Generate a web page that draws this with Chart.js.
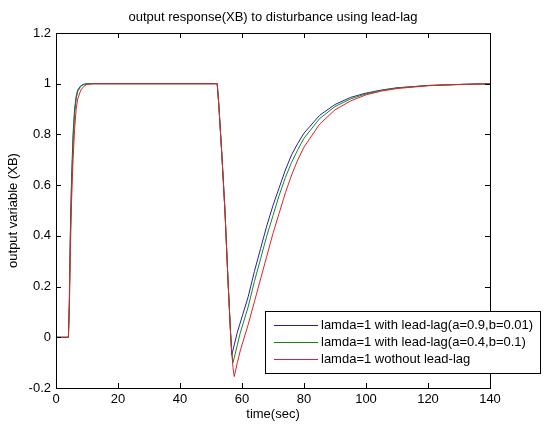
<!DOCTYPE html>
<html>
<head>
<meta charset="utf-8">
<script src="https://cdn.jsdelivr.net/npm/chart.js@4.4.0/dist/chart.umd.min.js"></script>
<style>
  html, body { margin: 0; padding: 0; background: #fff; }
  canvas { display: block; }
</style>
</head>
<body>
<canvas id="respChart" width="544" height="429"></canvas>
<script>
// time axis (sec)
const time = [0, 4, 4.3, 4.6, 5, 5.5, 6, 6.5, 7, 8, 9, 10, 12,
  52, 52.5, 53.5, 54.5, 55.5, 56.3, 56.7, 57.1, 57.5, 58.5, 59.5,
  62, 64, 66, 68, 70, 72, 74, 76, 78, 80,
  85, 90, 95, 100, 105, 110, 120, 130, 140];

// output XB, lead-lag a=0.9 b=0.01
const xbLeadLag1 = [0, 0, 0.15, 0.4, 0.62, 0.8, 0.9, 0.95, 0.975, 0.992, 0.998, 1, 1,
  1, 0.92, 0.72, 0.5, 0.22, 0.02, -0.07, -0.05, -0.03, 0.02, 0.06,
  0.16, 0.26, 0.35, 0.44, 0.52, 0.59, 0.66, 0.72, 0.765, 0.805,
  0.875, 0.918, 0.946, 0.963, 0.975, 0.984, 0.993, 0.997, 1];

// lead-lag a=0.4 b=0.1
const xbLeadLag2 = [0, 0, 0.13, 0.37, 0.59, 0.77, 0.88, 0.94, 0.97, 0.99, 0.997, 1, 1,
  1, 0.92, 0.72, 0.5, 0.22, 0.02, -0.06, -0.1, -0.08, -0.03, 0.02,
  0.12, 0.22, 0.31, 0.40, 0.48, 0.56, 0.63, 0.69, 0.74, 0.785,
  0.862, 0.91, 0.94, 0.96, 0.974, 0.983, 0.993, 0.997, 1];

// without lead-lag
const xbNoLeadLag = [0, 0, 0.1, 0.32, 0.53, 0.7, 0.82, 0.9, 0.94, 0.975, 0.99, 0.997, 1,
  1, 0.92, 0.72, 0.5, 0.22, 0.02, -0.06, -0.12, -0.155, -0.1, -0.05,
  0.05, 0.14, 0.23, 0.32, 0.41, 0.49, 0.57, 0.64, 0.70, 0.75,
  0.84, 0.897, 0.932, 0.956, 0.971, 0.981, 0.992, 0.997, 1];

const seriesNames = [
  'lamda=1 with lead-lag(a=0.9,b=0.01)',
  'lamda=1 with lead-lag(a=0.4,b=0.1)',
  'lamda=1 wothout lead-lag'
];
const seriesColors = ['#23239e', '#1a861a', '#e0202c'];
const xTicks = [0, 20, 40, 60, 80, 100, 120, 140];
const yTicks = [-0.2, 0, 0.2, 0.4, 0.6, 0.8, 1, 1.2];

const FONT = '"Liberation Sans", Arial, sans-serif';

function toPoints(vals) {
  return time.map((t, i) => ({ x: t, y: vals[i] }));
}

const matlabFrame = {
  id: 'matlabFrame',
  afterDatasetsDraw(chart) {
    const { ctx, chartArea: a, scales } = chart;
    ctx.save();
    ctx.strokeStyle = '#000';
    ctx.lineWidth = 1;
    // box
    ctx.strokeRect(Math.round(a.left) + 0.5, Math.round(a.top) + 0.5,
      Math.round(a.right - a.left), Math.round(a.bottom - a.top));
    // inward ticks
    const len = 5;
    ctx.beginPath();
    xTicks.forEach(v => {
      const px = Math.round(scales.x.getPixelForValue(v)) + 0.5;
      ctx.moveTo(px, a.bottom); ctx.lineTo(px, a.bottom - len);
      ctx.moveTo(px, a.top); ctx.lineTo(px, a.top + len);
    });
    yTicks.forEach(v => {
      const py = Math.round(scales.y.getPixelForValue(v)) + 0.5;
      ctx.moveTo(a.left, py); ctx.lineTo(a.left + len, py);
      ctx.moveTo(a.right, py); ctx.lineTo(a.right - len, py);
    });
    ctx.stroke();

    // titles
    ctx.fillStyle = '#000';
    ctx.font = '13px ' + FONT;
    ctx.textAlign = 'center';
    ctx.textBaseline = 'middle';
    ctx.fillText('output response(XB) to disturbance using lead-lag', (a.left + a.right) / 2, 17);
    ctx.fillText('time(sec)', (a.left + a.right) / 2, 414);
    ctx.save();
    ctx.translate(13, (a.top + a.bottom) / 2);
    ctx.rotate(-Math.PI / 2);
    ctx.fillText('output variable (XB)', 0, 0);
    ctx.restore();

    // legend
    const lx = 265, ly = 311, lw = 275, lh = 62;
    ctx.fillStyle = '#fff';
    ctx.fillRect(lx, ly, lw, lh);
    ctx.strokeStyle = '#000';
    ctx.strokeRect(lx + 0.5, ly + 0.5, lw, lh);
    ctx.textAlign = 'left';
    seriesNames.forEach((name, i) => {
      const y = ly + 14 + i * 17;
      ctx.strokeStyle = seriesColors[i];
      ctx.beginPath();
      ctx.moveTo(lx + 9, y + 0.5); ctx.lineTo(lx + 53, y + 0.5);
      ctx.stroke();
      ctx.fillStyle = '#000';
      ctx.fillText(name, lx + 56, y);
    });
    ctx.restore();
  }
};

new Chart(document.getElementById('respChart'), {
  type: 'line',
  data: {
    datasets: [
      { label: seriesNames[0], data: toPoints(xbLeadLag1), borderColor: seriesColors[0], order: 3 },
      { label: seriesNames[1], data: toPoints(xbLeadLag2), borderColor: seriesColors[1], order: 2 },
      { label: seriesNames[2], data: toPoints(xbNoLeadLag), borderColor: seriesColors[2], order: 1 }
    ]
  },
  options: {
    responsive: false,
    animation: false,
    events: [],
    layout: { padding: { top: 33, right: 54, left: 0, bottom: 0 } },
    elements: {
      line: { borderWidth: 1, tension: 0 },
      point: { radius: 0 }
    },
    plugins: {
      legend: { display: false },
      title: { display: false },
      tooltip: { enabled: false }
    },
    scales: {
      x: {
        type: 'linear',
        min: 0, max: 140,
        afterBuildTicks: s => { s.ticks = xTicks.map(v => ({ value: v })); },
        afterFit: s => { s.height = 41; },
        grid: { display: false, drawTicks: false },
        border: { display: false },
        ticks: { color: '#000', font: { family: FONT, size: 13 }, padding: 4, maxRotation: 0, autoSkip: false }
      },
      y: {
        type: 'linear',
        min: -0.2, max: 1.2,
        afterBuildTicks: s => { s.ticks = yTicks.map(v => ({ value: v })); },
        afterFit: s => { s.width = 56; },
        grid: { display: false, drawTicks: false },
        border: { display: false },
        ticks: {
          color: '#000', font: { family: FONT, size: 13 }, padding: 5,
          callback: v => String(parseFloat(Number(v).toFixed(1)))
        }
      }
    }
  },
  plugins: [matlabFrame]
});
</script>
</body>
</html>
